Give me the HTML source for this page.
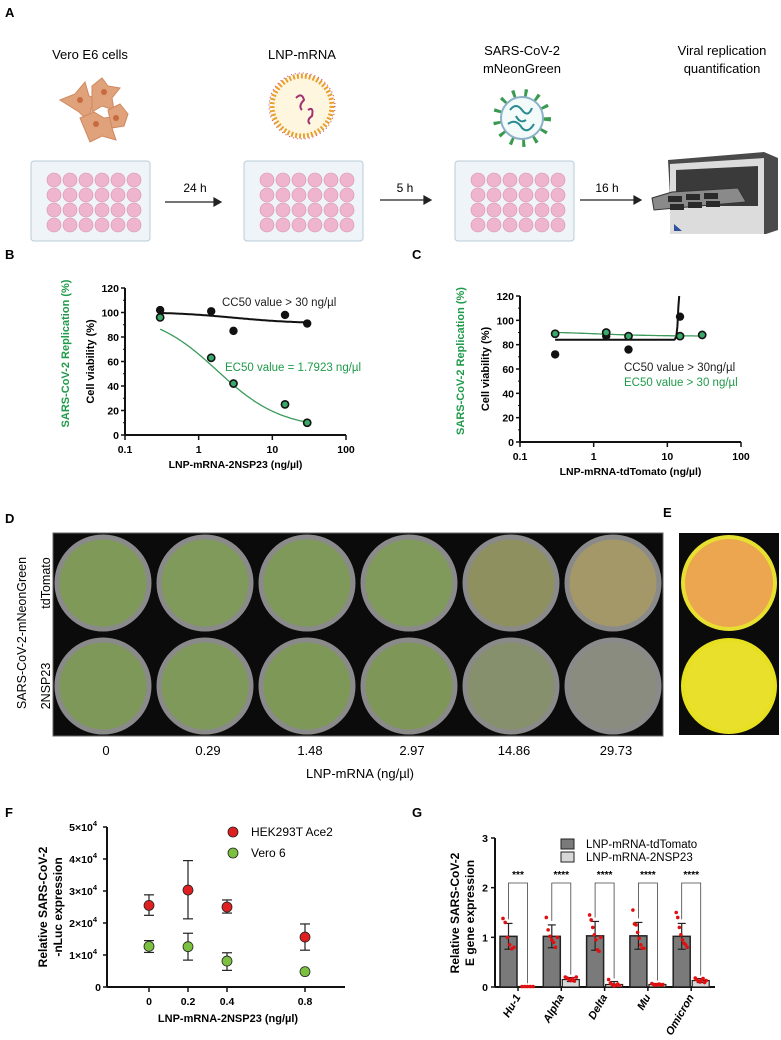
<!DOCTYPE html>
<html><head><meta charset="utf-8"><style>
body{margin:0;background:#fff;}
svg{display:block;font-family:"Liberation Sans",Arial,sans-serif;}
.b{font-weight:bold;}
</style></head><body>
<svg id="s" width="781" height="1040" viewBox="0 0 781 1040" xmlns="http://www.w3.org/2000/svg">
<g>
<text x="5" y="17" class="b" font-size="13">A</text>
<text x="90" y="59" font-size="13" text-anchor="middle">Vero E6 cells</text>
<text x="302" y="59" font-size="13" text-anchor="middle">LNP-mRNA</text>
<text x="522" y="55" font-size="13" text-anchor="middle">SARS-CoV-2</text>
<text x="522" y="73" font-size="13" text-anchor="middle">mNeonGreen</text>
<text x="722" y="55" font-size="13" text-anchor="middle">Viral replication</text>
<text x="722" y="73" font-size="13" text-anchor="middle">quantification</text>
<g fill="#e0a27a" stroke="#d08860" stroke-width="1">
<path d="M60 100 l15 -6 l10 -12 l4 14 l14 4 l-12 8 l-2 14 l-10 -10 z"/>
<path d="M92 86 l10 -8 l6 8 l12 2 l-8 10 l2 12 l-12 -4 l-10 6 z"/>
<path d="M80 118 l14 -6 l10 6 l14 -2 l-6 12 l4 12 l-14 -4 l-12 6 z"/>
<path d="M108 110 l12 -6 l8 10 l-4 12 l-12 2 z"/>
<circle cx="80" cy="100" r="3" fill="#c86a40" stroke="none"/><circle cx="104" cy="92" r="3" fill="#c86a40" stroke="none"/><circle cx="96" cy="124" r="3" fill="#c86a40" stroke="none"/><circle cx="116" cy="118" r="3" fill="#c86a40" stroke="none"/>
</g>
<g>
<circle cx="302" cy="106" r="30" fill="#fff6e0" stroke="#e8a030" stroke-width="5" stroke-dasharray="2 2"/>
<circle cx="302" cy="106" r="33" fill="none" stroke="#c04080" stroke-width="1" stroke-dasharray="1 3"/>
<path d="M296 98 q6 -6 8 2 q-6 6 -2 10" stroke="#a03070" stroke-width="2" fill="none"/>
<path d="M308 110 q6 -4 4 6 q-6 4 -2 8" stroke="#a03070" stroke-width="2" fill="none"/>
</g>
<g>
<circle cx="522" cy="118" r="25" fill="none" stroke="#3a9a50" stroke-width="8" stroke-dasharray="3 9"/>
<circle cx="522" cy="118" r="21" fill="#f2fafa" stroke="#8cb0c8" stroke-width="2"/>
<path d="M510 110 q6 -8 12 0 q6 8 10 -2 M508 124 q8 -6 14 4 q6 6 12 -4 M516 116 q4 8 10 4" stroke="#2a8a90" stroke-width="2" fill="none"/>
</g>
<g id="plates"></g>
<g stroke="#222" stroke-width="1.2">
<line x1="165" y1="202" x2="216" y2="202"/><path d="M214 198 l7 4 l-7 4z" fill="#222"/>
<line x1="380" y1="200" x2="426" y2="200"/><path d="M424 196 l7 4 l-7 4z" fill="#222"/>
<line x1="580" y1="200" x2="636" y2="200"/><path d="M634 196 l7 4 l-7 4z" fill="#222"/>
</g>
<text x="195" y="192" font-size="12" text-anchor="middle">24 h</text>
<text x="405" y="192" font-size="12" text-anchor="middle">5 h</text>
<text x="607" y="192" font-size="12" text-anchor="middle">16 h</text>
<g>
<path d="M668 160 l96 -8 l14 6 l0 72 l-12 4 l-94 0 z" fill="#4a4a4a"/>
<path d="M670 164 l94 -6 l0 76 l-94 0 z" fill="#dcdcdc"/>
<path d="M676 170 l82 -4 l0 40 l-82 0 z" fill="#3a3a3a"/>
<path d="M652 198 l20 -6 l66 -4 l8 14 l-70 6 l-22 2 z" fill="#8a8a8a" stroke="#333" stroke-width="1"/>
<rect x="668" y="196" width="14" height="6" fill="#2a2a2a"/><rect x="686" y="194" width="14" height="6" fill="#2a2a2a"/><rect x="704" y="193" width="14" height="6" fill="#2a2a2a"/>
<rect x="670" y="204" width="14" height="6" fill="#2a2a2a"/><rect x="688" y="202" width="14" height="6" fill="#2a2a2a"/><rect x="706" y="201" width="14" height="6" fill="#2a2a2a"/>
<path d="M674 224 l8 7 l-8 0z" fill="#3050a0"/>
</g>
</g>

<text x="5" y="259" class="b" font-size="13">B</text>
<text x="412" y="259" class="b" font-size="13">C</text>
<g id="chartB"></g>
<g id="chartC"></g>

<text x="5" y="523" class="b" font-size="13">D</text>
<text x="663" y="517" class="b" font-size="13">E</text>
<rect x="53" y="533" width="610" height="203" fill="#0b0b0b" stroke="#666"/>
<rect x="679" y="533" width="100" height="202" fill="#0b0b0b"/>
<g id="wells"></g>
<text transform="translate(50,583) rotate(-90)" font-size="12.5" text-anchor="middle">tdTomato</text>
<text transform="translate(50,686) rotate(-90)" font-size="12.5" text-anchor="middle">2NSP23</text>
<text transform="translate(26,633) rotate(-90)" font-size="12.5" text-anchor="middle">SARS-CoV-2-mNeonGreen</text>
<g id="dlabels"></g>
<text x="360" y="778" font-size="13" text-anchor="middle">LNP-mRNA (ng/µl)</text>

<text x="5" y="817" class="b" font-size="13">F</text>
<text x="412" y="817" class="b" font-size="13">G</text>
<g id="chartF"></g>
<g id="chartG"></g>
</svg>
<script>
const NS='http://www.w3.org/2000/svg';
function mk(p,tag,at,txt){const e=document.createElementNS(NS,tag);for(const k in at)e.setAttribute(k,at[k]);if(txt!==undefined)e.textContent=txt;p.appendChild(e);return e;}

const plateX=[31,244,455];
const pg=document.getElementById('plates');
plateX.forEach((px,i)=>{
  const r=mk(pg,'rect',{x:px,y:161,width:119,height:80,rx:3,fill:'#eef4f8',stroke:'#b8ccd8'});
  
  
  for(let row=0;row<4;row++)for(let c=0;c<6;c++){
    mk(pg,'circle',{cx:px+23+c*16,cy:180+row*15,r:7,fill:'#efb5cf',stroke:'#d890b0','stroke-width':0.6});
  }
});

const wg=document.getElementById('wells');
const wellCenters=[103,205,307,409,511,613];
const row1Fill=['#7f9a58','#7f9a5a','#7e995a','#809a5c','#8e9060','#a49868'];
const row2Fill=['#7e985a','#7f995a','#7e9858','#7e9658','#86906c','#8a8c80'];
wellCenters.forEach((cx,i)=>{
  [[583,row1Fill[i]],[686,row2Fill[i]]].forEach(([cy,f],j)=>{
    const c=mk(wg,'circle',{cx:cx,cy:cy,r:46,fill:f,stroke:'#8a8a8a','stroke-width':5});
    
    
  });
});
const e1=mk(wg,'circle',{cx:729,cy:583,r:46,fill:'#eda650',stroke:'#e8e030','stroke-width':4});


const e2=mk(wg,'circle',{cx:729,cy:686,r:46,fill:'#e8e02a',stroke:'#e6e020','stroke-width':4});


const dConc=['0','0.29','1.48','2.97','14.86','29.73'];
const dl=document.getElementById('dlabels');
dConc.forEach((t,i)=>{
  const e=mk(dl,'text',{x:wellCenters[i]+3,y:755,'font-size':13,'text-anchor':'middle'},t);
  
  
});

const doseX=[0.3,1.48,2.97,14.86,29.73];
const bViab=[102,101,85,98,91];
const bRepl=[96,63,42,25,10];
const cViab=[72,87,76,103,null];
const cRepl=[89,90,87,87,88];
const yTicks=[0,20,40,60,80,100,120];
const xTicksLog=['0.1','1','10','100'];
const bViabFit={top:100.5,bottom:91,ec50:3,h:1};
const bReplFit={top:100,bottom:5,ec50:1.79,h:1};
const cReplFit={top:91,bottom:87,ec50:1,h:1};
const cViabFit={base:84,onset:12.5,k:1.3};

function doseChart(gid,ax,cfg){
  const g=document.getElementById(gid);
  const sx=v=>ax.x0+(Math.log10(v)+1)/3*(ax.x1-ax.x0);
  const sy=v=>ax.y0-v/120*(ax.y0-ax.y1);
  let e=mk(g,'line',{x1:ax.x0,y1:ax.y0,x2:ax.x1,y2:ax.y0,stroke:'#111','stroke-width':2});
  
  e=mk(g,'line',{x1:ax.x0,y1:ax.y0,x2:ax.x0,y2:ax.y1,stroke:'#111','stroke-width':2});
  
  yTicks.forEach(v=>{
    mk(g,'line',{x1:ax.x0-4,x2:ax.x0,y1:sy(v),y2:sy(v),stroke:'#111','stroke-width':1.5});
    if(v<120)mk(g,'line',{x1:ax.x0-2,x2:ax.x0,y1:sy(v+10),y2:sy(v+10),stroke:'#111'});
    const t=mk(g,'text',{x:ax.x0-6,y:sy(v)+4,'font-size':10.5,'font-weight':'bold','text-anchor':'end'},String(v));
    
  });
  xTicksLog.forEach((l,i)=>{
    const x=ax.x0+i/3*(ax.x1-ax.x0);
    mk(g,'line',{x1:x,x2:x,y1:ax.y0,y2:ax.y0+5,stroke:'#111','stroke-width':1.5});
    const t=mk(g,'text',{x:x,y:ax.y0+18,'font-size':10.5,'font-weight':'bold','text-anchor':'middle'},l);
    
  });
  let t=mk(g,'text',{x:(ax.x0+ax.x1)/2,y:ax.y0+33,'font-size':10.5,'font-weight':'bold','text-anchor':'middle'},cfg.xtitle);
  
  t=mk(g,'text',{transform:`translate(${ax.x0-31},${(ax.y0+ax.y1)/2}) rotate(-90)`,'font-size':11,'font-weight':'bold','text-anchor':'middle'},'Cell viability (%)');
  
  t=mk(g,'text',{transform:`translate(${ax.x0-56},${(ax.y0+ax.y1)/2-8}) rotate(-90)`,'font-size':11,'font-weight':'bold','text-anchor':'middle',fill:'#1f9a4a'},'SARS-CoV-2 Replication  (%)');
  
  function path(fn,a,b,color,w,name){
    let d='';for(let i=0;i<=160;i++){const v=a*Math.pow(b/a,i/160);let y=fn(v);if(y>120){y=120;}d+=(i?'L':'M')+sx(v).toFixed(1)+' '+sy(y).toFixed(1);if(y>=120)break;}
    const p=mk(g,'path',{d:d,fill:'none',stroke:color,'stroke-width':w});
    
  }
  path(cfg.viabFn,0.3,29.73,'#111',2,'viability-fit-curve');
  path(cfg.replFn,0.3,29.73,'#3a9a5a',1.3,'replication-fit-curve');
  cfg.viab.forEach((v,i)=>{if(v===null)return;const c=mk(g,'circle',{cx:sx(doseX[i]),cy:sy(v),r:4.2,fill:'#111'});
    });
  cfg.repl.forEach((v,i)=>{const c=mk(g,'circle',{cx:sx(doseX[i]),cy:sy(v),r:3.6,fill:'#3ba86a',stroke:'#111','stroke-width':1.6});
    });
  cfg.labels.forEach(l=>{const t=mk(g,'text',{x:l[0],y:l[1],'font-size':11.5,fill:l[3]},l[2]);
    });
}
const hill=p=>x=>p.bottom+(p.top-p.bottom)/(1+Math.pow(x/p.ec50,p.h));
doseChart('chartB',{x0:125,x1:346,y0:435,y1:288},{viab:bViab,repl:bRepl,xtitle:'LNP-mRNA-2NSP23 (ng/µl)',
  viabFn:hill(bViabFit),replFn:hill(bReplFit),
  labels:[[222,306,'CC50 value > 30 ng/µl','#222','cc50-label'],[225,371,'EC50 value = 1.7923 ng/µl','#1f9a4a','ec50-label']]});
doseChart('chartC',{x0:520,x1:741,y0:442,y1:296},{viab:cViab,repl:cRepl,xtitle:'LNP-mRNA-tdTomato (ng/µl)',
  viabFn:x=>x<cViabFit.onset?cViabFit.base:cViabFit.base+Math.exp((x-cViabFit.onset)*cViabFit.k*1.6)-1,
  replFn:hill(cReplFit),
  labels:[[624,371,'CC50 value > 30ng/µl','#222','cc50-label'],[624,386,'EC50 value > 30 ng/µl','#1f9a4a','ec50-label']]});

const fX=[0,0.2,0.4,0.8];
const fXLabels=['0','0.2','0.4','0.8'];
const fHek=[2.55,3.03,2.5,1.56];
const fHekHi=[2.88,3.95,2.72,1.97];
const fHekLo=[2.24,2.13,2.31,1.15];
const fVero=[1.27,1.26,0.81,0.48];
const fVeroHi=[1.45,1.68,1.07,null];
const fVeroLo=[1.08,0.84,0.52,null];
const fYTicks=[0,1,2,3,4,5];
(function(){
  const g=document.getElementById('chartF');
  const ax={x0:107,x1:345,y0:987,y1:827};
  const sx=v=>149+v/0.8*(305-149);
  const sy=v=>ax.y0-v/5*(ax.y0-ax.y1);
  let e=mk(g,'line',{x1:ax.x0,y1:ax.y0,x2:ax.x1,y2:ax.y0,stroke:'#111','stroke-width':2});
  
  e=mk(g,'line',{x1:ax.x0,y1:ax.y0,x2:ax.x0,y2:ax.y1,stroke:'#111','stroke-width':2});
  
  fYTicks.forEach(v=>{
    mk(g,'line',{x1:ax.x0-4,x2:ax.x0,y1:sy(v),y2:sy(v),stroke:'#111','stroke-width':1.5});
    const t=mk(g,'text',{x:ax.x0-6,y:sy(v)+4,'font-size':10.5,'font-weight':'bold','text-anchor':'end'});
    
    if(v===0){t.textContent='0';}else{
      mk(t,'tspan',{},v+'×10');mk(t,'tspan',{dy:-5,'font-size':7.5},'4');
      t.setAttribute('x',ax.x0-10);
    }
  });
  fX.forEach((v,i)=>{
    mk(g,'line',{x1:sx(v),x2:sx(v),y1:ax.y0,y2:ax.y0+5,stroke:'#111','stroke-width':1.5});
    const t=mk(g,'text',{x:sx(v),y:ax.y0+18,'font-size':10.5,'font-weight':'bold','text-anchor':'middle'},fXLabels[i]);
    
  });
  let t=mk(g,'text',{x:228,y:1022,'font-size':11,'font-weight':'bold','text-anchor':'middle'},'LNP-mRNA-2NSP23 (ng/µl)');
  
  t=mk(g,'text',{transform:'translate(47,907) rotate(-90)','font-size':12,'font-weight':'bold','text-anchor':'middle'},'Relative SARS-CoV-2');
  
  t=mk(g,'text',{transform:'translate(62,907) rotate(-90)','font-size':12,'font-weight':'bold','text-anchor':'middle'},'-nLuc expression');
  
  function series(vals,hi,lo,color,name){
    vals.forEach((v,i)=>{
      const x=sx(fX[i]);
      if(hi[i]!==null){
        mk(g,'line',{x1:x,x2:x,y1:sy(hi[i]),y2:sy(lo[i]),stroke:'#222','stroke-width':1.2});
        mk(g,'line',{x1:x-5,x2:x+5,y1:sy(hi[i]),y2:sy(hi[i]),stroke:'#222','stroke-width':1.2});
        mk(g,'line',{x1:x-5,x2:x+5,y1:sy(lo[i]),y2:sy(lo[i]),stroke:'#222','stroke-width':1.2});
      }
      const c=mk(g,'circle',{cx:x,cy:sy(v),r:5,fill:color,stroke:'#222','stroke-width':0.8});
      
    });
  }
  series(fHek,fHekHi,fHekLo,'#e02020','hek293t-point');
  series(fVero,fVeroHi,fVeroLo,'#7cc040','vero6-point');
  let c=mk(g,'circle',{cx:233,cy:832,r:5,fill:'#e02020',stroke:'#222','stroke-width':0.8});
  
  t=mk(g,'text',{x:251,y:836,'font-size':12},'HEK293T Ace2');
  
  c=mk(g,'circle',{cx:233,cy:853,r:5,fill:'#7cc040',stroke:'#222','stroke-width':0.8});
  
  t=mk(g,'text',{x:251,y:857,'font-size':12},'Vero 6');
  
})();

const gCats=['Hu-1','Alpha','Delta','Mu','Omicron'];
const gTd=[1.02,1.02,1.03,1.03,1.02];
const gTdSd=[0.26,0.23,0.29,0.27,0.26];
const gNsp=[0.01,0.15,0.05,0.05,0.13];
const gNspSd=[0.005,0.04,0.06,0.02,0.04];
const gSig=['***','****','****','****','****'];
const gTdPts=[[1.38,1.3,1.0,0.85,0.77,0.8],[1.4,1.15,1.02,0.95,0.9,0.8,1.0],[1.45,1.35,1.2,1.05,0.95,0.75,0.72,1.0],[1.55,1.27,1.25,1.1,0.98,0.85,0.78,0.78],[1.5,1.4,1.2,1.05,0.95,0.88,0.85,0.8]];
const gNspPts=[[0.01,0.01,0.01,0.01,0.01],[0.2,0.18,0.15,0.13,0.17,0.12,0.2],[0.15,0.08,0.05,0.02,0.04,0.06,0.03],[0.07,0.05,0.04,0.05,0.06,0.04,0.05],[0.18,0.15,0.12,0.1,0.14,0.17,0.09,0.13]];
const gYTicks=[0,1,2,3];
(function(){
  const g=document.getElementById('chartG');
  const ax={x0:495,x1:715,y0:987,y1:838};
  const sy=v=>ax.y0-v/3*(ax.y0-ax.y1);
  const gx=i=>518+i*43.3;
  const bw=17;
  let e=mk(g,'line',{x1:ax.x0,y1:ax.y0,x2:ax.x1,y2:ax.y0,stroke:'#111','stroke-width':2});
  
  e=mk(g,'line',{x1:ax.x0,y1:ax.y0,x2:ax.x0,y2:ax.y1,stroke:'#111','stroke-width':2});
  
  gYTicks.forEach(v=>{
    mk(g,'line',{x1:ax.x0-4,x2:ax.x0,y1:sy(v),y2:sy(v),stroke:'#111','stroke-width':1.5});
    const t=mk(g,'text',{x:ax.x0-7,y:sy(v)+4,'font-size':10.5,'font-weight':'bold','text-anchor':'end'},String(v));
    
  });
  let t=mk(g,'text',{transform:'translate(459,913) rotate(-90)','font-size':12,'font-weight':'bold','text-anchor':'middle'},'Relative SARS-CoV-2');
  
  t=mk(g,'text',{transform:'translate(474,913) rotate(-90)','font-size':12,'font-weight':'bold','text-anchor':'middle'},'E gene expression');
  
  gCats.forEach((cat,i)=>{
    const xc=gx(i);
    const xd=xc-bw-1, xl=xc+1;
    let b=mk(g,'rect',{x:xd,y:sy(gTd[i]),width:bw,height:ax.y0-sy(gTd[i]),fill:'#7a7a7a',stroke:'#222','stroke-width':1.5});
    
    b=mk(g,'rect',{x:xl,y:sy(gNsp[i]),width:bw,height:Math.max(0.5,ax.y0-sy(gNsp[i])),fill:'#d8d8d8',stroke:'#222','stroke-width':1.2});
    
    [[xd+bw/2,gTd[i],gTdSd[i]],[xl+bw/2,gNsp[i],gNspSd[i]]].forEach(([x,v,s])=>{
      mk(g,'line',{x1:x,x2:x,y1:sy(v+s),y2:sy(Math.max(0,v-s)),stroke:'#222','stroke-width':1.2});
      mk(g,'line',{x1:x-4,x2:x+4,y1:sy(v+s),y2:sy(v+s),stroke:'#222','stroke-width':1.2});
      mk(g,'line',{x1:x-4,x2:x+4,y1:sy(Math.max(0,v-s)),y2:sy(Math.max(0,v-s)),stroke:'#222','stroke-width':1.2});
    });
    gTdPts[i].forEach((v,k)=>{const n=gTdPts[i].length;
      const c=mk(g,'circle',{cx:xd+3+k*(bw-6)/(n-1),cy:sy(v),r:1.8,fill:'#e01010'});
      });
    gNspPts[i].forEach((v,k)=>{const n=gNspPts[i].length;
      const c=mk(g,'circle',{cx:xl+3+k*(bw-6)/(n-1),cy:sy(v),r:1.8,fill:'#e01010'});
      });
    const by=883;
    mk(g,'path',{d:`M${xd+bw/2} ${sy(gTd[i]+gTdSd[i])-4} L${xd+bw/2} ${by} L${xl+bw/2} ${by} L${xl+bw/2} ${sy(gNsp[i]+gNspSd[i])-3}`,fill:'none',stroke:'#444','stroke-width':0.8});
    t=mk(g,'text',{x:xc,y:878,'font-size':10,'font-weight':'bold','text-anchor':'middle'},gSig[i]);
    
    mk(g,'line',{x1:xc,x2:xc,y1:ax.y0,y2:ax.y0+4,stroke:'#111','stroke-width':1.5});
    t=mk(g,'text',{transform:`translate(${xc+3},${ax.y0+10}) rotate(-60)`,'font-size':11,'font-weight':'bold','font-style':'italic','text-anchor':'end'},cat);
    
  });
  let r=mk(g,'rect',{x:561,y:839,width:13,height:10,fill:'#7a7a7a',stroke:'#222'});
  
  t=mk(g,'text',{x:586,y:848,'font-size':11.5},'LNP-mRNA-tdTomato');
  
  r=mk(g,'rect',{x:561,y:852,width:13,height:10,fill:'#d8d8d8',stroke:'#222'});
  
  t=mk(g,'text',{x:586,y:861,'font-size':11.5},'LNP-mRNA-2NSP23');
  
})();
</script>
</body></html>
